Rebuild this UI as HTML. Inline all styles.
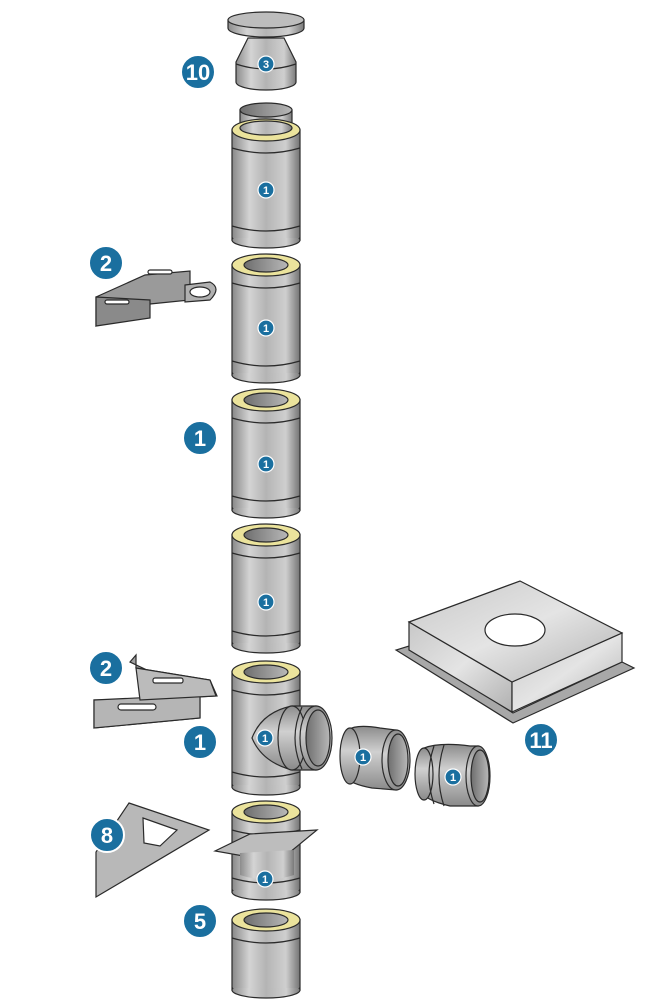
<!DOCTYPE html>
<html><head><meta charset="utf-8"><style>
html,body{margin:0;padding:0;background:#fff;width:666px;height:1000px;overflow:hidden}
svg{display:block}
text{font-family:"Liberation Sans",sans-serif;font-weight:bold;fill:#fff;text-anchor:middle}
</style></head><body>
<svg width="666" height="1000" viewBox="0 0 666 1000" xmlns="http://www.w3.org/2000/svg">
<defs>
<linearGradient id="g" x1="0" x2="1" y1="0" y2="0">
<stop offset="0" stop-color="#8c8c8c"/><stop offset="0.25" stop-color="#d4d4d4"/><stop offset="0.5" stop-color="#b4b4b4"/><stop offset="0.8" stop-color="#cfcfcf"/><stop offset="1" stop-color="#7a7a7a"/>
</linearGradient>
<linearGradient id="gv" x1="0" x2="0" y1="0" y2="1">
<stop offset="0" stop-color="#8c8c8c"/><stop offset="0.4" stop-color="#d0d0d0"/><stop offset="1" stop-color="#8a8a8a"/>
</linearGradient>
<linearGradient id="in" x1="0" x2="1" y1="0" y2="0">
<stop offset="0" stop-color="#6e6e6e"/><stop offset="1" stop-color="#b8b8b8"/>
</linearGradient>
<linearGradient id="box" x1="0" x2="1" y1="0" y2="1">
<stop offset="0" stop-color="#c8c8c8"/><stop offset="0.5" stop-color="#e4e4e4"/><stop offset="1" stop-color="#b0b0b0"/>
</linearGradient>
</defs>
<g stroke="#2a2a2a" stroke-width="1.2">

<!-- cap -->
<path d="M228,20 L228,28 A38,9 0 0 0 304,28 L304,20 Z" fill="url(#g)"/>
<ellipse cx="266" cy="20" rx="38" ry="8" fill="#bdbdbd"/>
<path d="M248,38 L236,62 L236,82 A30,8 0 0 0 296,82 L296,62 L284,38 Z" fill="url(#g)"/>
<path d="M236,64 Q266,74 296,64" fill="none"/>

<!-- sleeve top -->
<rect x="240" y="110" width="52" height="20" fill="url(#g)"/>
<ellipse cx="266" cy="110" rx="26" ry="7" fill="url(#in)"/>

<!-- pipes -->
<g id="p1">
<rect x="232" y="130" width="68" height="110" fill="url(#g)"/>
<ellipse cx="266" cy="240" rx="34" ry="8" fill="url(#g)"/>
<rect x="233" y="130" width="66" height="108" fill="url(#g)" stroke="none"/>
<path d="M232,148 Q266,158 300,148 M232,226 Q266,236 300,226" fill="none"/>
<ellipse cx="266" cy="130" rx="34" ry="11" fill="#ebe39c"/>
</g>
<ellipse cx="266" cy="128" rx="26" ry="7" fill="url(#g)"/>

<g>
<rect x="232" y="265" width="68" height="110" fill="url(#g)"/>
<ellipse cx="266" cy="375" rx="34" ry="8" fill="url(#g)"/>
<rect x="233" y="265" width="66" height="108" fill="url(#g)" stroke="none"/>
<path d="M232,283 Q266,293 300,283 M232,361 Q266,371 300,361" fill="none"/>
<ellipse cx="266" cy="265" rx="34" ry="11" fill="#ebe39c"/>
<ellipse cx="266" cy="265" rx="22" ry="7" fill="url(#in)"/>
</g>
<g>
<rect x="232" y="400" width="68" height="110" fill="url(#g)"/>
<ellipse cx="266" cy="510" rx="34" ry="8" fill="url(#g)"/>
<rect x="233" y="400" width="66" height="108" fill="url(#g)" stroke="none"/>
<path d="M232,418 Q266,428 300,418 M232,496 Q266,506 300,496" fill="none"/>
<ellipse cx="266" cy="400" rx="34" ry="11" fill="#ebe39c"/>
<ellipse cx="266" cy="400" rx="22" ry="7" fill="url(#in)"/>
</g>
<g>
<rect x="232" y="535" width="68" height="110" fill="url(#g)"/>
<ellipse cx="266" cy="645" rx="34" ry="8" fill="url(#g)"/>
<rect x="233" y="535" width="66" height="108" fill="url(#g)" stroke="none"/>
<path d="M232,553 Q266,563 300,553 M232,631 Q266,641 300,631" fill="none"/>
<ellipse cx="266" cy="535" rx="34" ry="11" fill="#ebe39c"/>
<ellipse cx="266" cy="535" rx="22" ry="7" fill="url(#in)"/>
</g>
<!-- tee -->
<g>
<rect x="232" y="672" width="68" height="115" fill="url(#g)"/>
<ellipse cx="266" cy="787" rx="34" ry="8" fill="url(#g)"/>
<rect x="233" y="672" width="66" height="113" fill="url(#g)" stroke="none"/>
<path d="M232,690 Q266,700 300,690 M232,772 Q266,782 300,772" fill="none"/>
<ellipse cx="266" cy="672" rx="34" ry="11" fill="#ebe39c"/>
<ellipse cx="266" cy="672" rx="22" ry="7" fill="url(#in)"/>
<path d="M252,738 Q262,712 292,706 L316,706 L316,770 L292,770 Q262,762 252,738 Z" fill="url(#gv)"/>
<ellipse cx="292" cy="738" rx="14" ry="32" fill="url(#gv)"/>
<path d="M302,707 Q288,738 302,769" fill="none"/>
<ellipse cx="316" cy="738" rx="16" ry="32" fill="url(#gv)"/>
<ellipse cx="318" cy="738" rx="12" ry="28" fill="url(#in)"/>
</g>
<!-- couplings -->
<g>
<path d="M348,730 Q356,724 380,728 L396,730 L396,790 L372,788 Q350,784 344,776 Z" fill="url(#gv)"/>
<ellipse cx="350" cy="756" rx="10" ry="28" fill="url(#gv)"/>
<ellipse cx="396" cy="760" rx="14" ry="30" fill="url(#gv)"/>
<ellipse cx="398" cy="760" rx="10" ry="26" fill="url(#in)"/>
</g>
<g>
<path d="M424,748 Q440,742 470,746 L478,746 L478,806 L450,806 Q424,800 420,790 Z" fill="url(#gv)"/>
<ellipse cx="424" cy="774" rx="9" ry="26" fill="url(#gv)"/>
<path d="M434,746 Q424,775 434,804 M444,745 Q434,776 444,806" fill="none"/>
<ellipse cx="478" cy="776" rx="12" ry="30" fill="url(#gv)"/>
<ellipse cx="480" cy="776" rx="9" ry="26" fill="url(#in)"/>
</g>
<!-- pipe with plate -->
<g>
<rect x="232" y="812" width="68" height="80" fill="url(#g)"/>
<ellipse cx="266" cy="892" rx="34" ry="8" fill="url(#g)"/>
<rect x="233" y="812" width="66" height="78" fill="url(#g)" stroke="none"/>
<path d="M232,830 Q266,840 300,830 M232,878 Q266,888 300,878" fill="none"/>
<polygon points="215,851 250,834 317,830 278,862" fill="#bdbdbd"/>
<path d="M240,853 L240,875 Q266,884 294,875 L294,850" fill="url(#g)" stroke="none"/>
<ellipse cx="266" cy="812" rx="34" ry="11" fill="#ebe39c"/>
<ellipse cx="266" cy="812" rx="22" ry="7" fill="url(#in)"/>
</g>
<g>
<rect x="232" y="920" width="68" height="70" fill="url(#g)"/>
<ellipse cx="266" cy="990" rx="34" ry="8" fill="url(#g)"/>
<rect x="233" y="920" width="66" height="68" fill="url(#g)" stroke="none"/>
<path d="M232,938 Q266,948 300,938" fill="none"/>
<ellipse cx="266" cy="920" rx="34" ry="11" fill="#ebe39c"/>
<ellipse cx="266" cy="920" rx="22" ry="7" fill="url(#in)"/>
</g>

<!-- box 11 -->
<polygon points="396,650 513,723 634,668 622,662 513,713 409,646" fill="#a8a8a8"/>
<polygon points="409,622 512,682 512,712 409,650" fill="url(#box)"/>
<polygon points="512,682 622,633 622,662 512,712" fill="url(#box)"/>
<polygon points="409,622 520,581 622,633 512,682" fill="url(#box)"/>
<ellipse cx="515" cy="630" rx="30" ry="16" fill="#fff"/>

<!-- bracket 2 top -->
<polygon points="96,297 145,275 190,271 190,300 150,304 96,326" fill="#9a9a9a"/>
<polygon points="96,297 150,300 150,318 96,326" fill="#8a8a8a"/>
<path d="M185,285 L210,282 Q222,288 210,300 L185,302 Z" fill="#b0b0b0"/>
<ellipse cx="200" cy="292" rx="10" ry="5" fill="#fff"/>
<rect x="148" y="270" width="24" height="4" rx="2" fill="#fff"/>
<rect x="105" y="300" width="24" height="4" rx="2" fill="#fff"/>

<!-- bracket 2 lower -->
<polygon points="130,662 136,655 136,668 210,680 217,696 140,700 94,700 94,728 200,718 200,695" fill="#a0a0a0"/>
<polygon points="94,700 200,695 200,718 94,728" fill="#b5b5b5"/>
<polygon points="136,668 210,680 216,696 140,700" fill="#bbbbbb"/>
<rect x="153" y="678" width="30" height="5" rx="2" fill="#fff"/>
<rect x="118" y="704" width="38" height="6" rx="3" fill="#fff"/>

<!-- triangle bracket 8 -->
<polygon points="129,803 209,830 96,897 96,852" fill="#b8b8b8"/>
<polygon points="143,818 177,830 160,846 144,843" fill="#fff"/>
</g>

<!-- big labels -->
<g stroke="#fff" stroke-width="2" fill="#1a6f9f">
<circle cx="198" cy="72" r="17"/><circle cx="106" cy="263" r="17"/><circle cx="200" cy="438" r="17"/>
<circle cx="106" cy="668" r="17"/><circle cx="200" cy="742" r="17"/><circle cx="541" cy="740" r="17"/>
<circle cx="107" cy="835" r="17"/><circle cx="200" cy="921" r="17"/>
</g>
<g font-size="22">
<text x="198" y="80">10</text><text x="106" y="271">2</text><text x="200" y="446">1</text>
<text x="106" y="676">2</text><text x="200" y="750">1</text><text x="541" y="748">11</text>
<text x="107" y="843">8</text><text x="200" y="929">5</text>
</g>
<!-- small labels -->
<g stroke="#fff" stroke-width="1.2" fill="#1a6f9f">
<circle cx="266" cy="64" r="8"/><circle cx="266" cy="190" r="8"/><circle cx="266" cy="328" r="8"/>
<circle cx="266" cy="464" r="8"/><circle cx="266" cy="602" r="8"/><circle cx="265" cy="738" r="8"/>
<circle cx="363" cy="757" r="8"/><circle cx="453" cy="777" r="8"/><circle cx="265" cy="879" r="8"/>
</g>
<g font-size="11">
<text x="266" y="68">3</text><text x="266" y="194">1</text><text x="266" y="332">1</text>
<text x="266" y="468">1</text><text x="266" y="606">1</text><text x="265" y="742">1</text>
<text x="363" y="761">1</text><text x="453" y="781">1</text><text x="265" y="883">1</text>
</g>
</svg>
</body></html>
